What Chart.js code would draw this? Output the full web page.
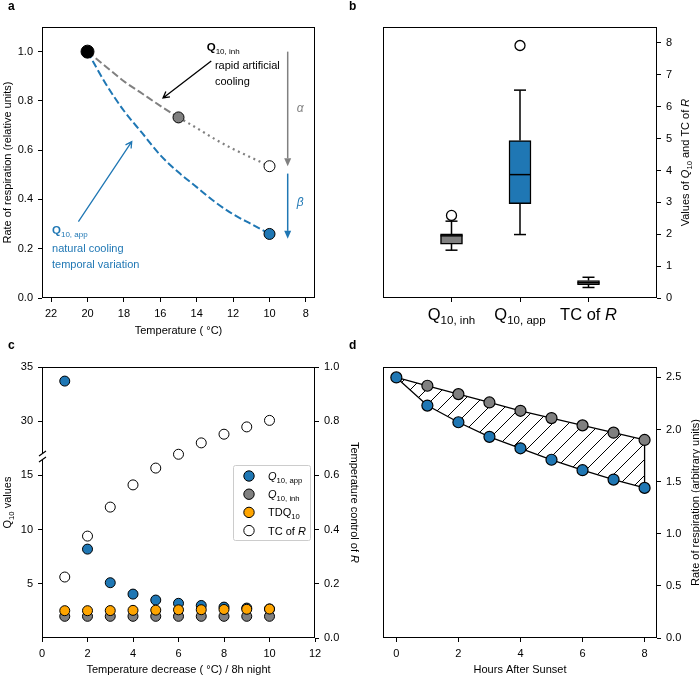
<!DOCTYPE html>
<html><head><meta charset="utf-8">
<script src="https://cdn.jsdelivr.net/npm/chart.js@4.4.1/dist/chart.umd.min.js"></script>
<style>
html,body{margin:0;padding:0;background:#fff;}
#wrap{position:relative;width:700px;height:676px;background:#fff;}
canvas{position:absolute;left:0;top:0;}
</style></head><body>
<div id="wrap">
<canvas id="ca" width="700" height="676"></canvas>
<canvas id="cb" width="700" height="676"></canvas>
<canvas id="cc" width="700" height="676"></canvas>
<canvas id="cd" width="700" height="676"></canvas>
</div>
<script>
const FONT = "'Liberation Sans', Arial, Helvetica, sans-serif";
const BLUE = '#1f77b4', GRAY = '#808080', ORANGE = '#ffa500';
Chart.defaults.font.family = FONT;

// ---------- Panel a data ----------
const aTempTicks = [22, 20, 18, 16, 14, 12, 10, 8];
const aRateTicks = [0.0, 0.2, 0.4, 0.6, 0.8, 1.0];
const aAppTemp = [20, 19, 18, 17, 16, 15, 14, 13, 12, 11, 10];
const aAppRate = [1.00, 0.87, 0.76, 0.67, 0.58, 0.51, 0.45, 0.39, 0.34, 0.30, 0.26];
const aInhTempDash = [20, 19, 18, 17, 16, 15];
const aInhRateDash = [1.00, 0.94, 0.88, 0.83, 0.78, 0.733];
const aInhTempDot = [15, 14, 13, 12, 11, 10];
const aInhRateDot = [0.733, 0.69, 0.645, 0.605, 0.57, 0.535];
const aMarkTemp = [20, 15, 10, 10];
const aMarkRate = [1.00, 0.733, 0.535, 0.26];
const aArrowTemp = 9;
const aAlphaSpan = [1.00, 0.535];
const aBetaSpan = [0.505, 0.24];

// ---------- Panel b data ----------
const bCategories = ['Q_{10, inh}', 'Q_{10, app}', 'TC of $R$'];
const bPositions = [1, 2, 3];
const bWhiskerLow = [1.50, 1.99, 0.33];
const bQ1 = [1.69, 2.96, 0.42];
const bMedian = [1.95, 3.87, 0.48];
const bQ3 = [2.01, 4.94, 0.55];
const bWhiskerHigh = [2.41, 6.52, 0.65];
const bOutliers = [2.59, 7.92, null];
const bTicksY = [0, 1, 2, 3, 4, 5, 6, 7, 8];

// ---------- Panel c data ----------
const cTempDecrease = [1, 2, 3, 4, 5, 6, 7, 8, 9, 10];
const cQ10app = [33.7, 8.2, 5.1, 4.05, 3.5, 3.2, 3.0, 2.85, 2.76, 2.68];
const cQ10inh = [2.0, 2.0, 2.0, 2.0, 2.0, 2.0, 2.0, 2.0, 2.0, 2.0];
const cTDQ10 = [2.52, 2.52, 2.53, 2.55, 2.57, 2.6, 2.61, 2.63, 2.65, 2.67];
const cTCofR = [0.225, 0.376, 0.483, 0.565, 0.627, 0.678, 0.72, 0.752, 0.779, 0.803];
const cTicksX = [0, 2, 4, 6, 8, 10, 12];
const cTicksLeft = [5, 10, 15, 30, 35];
const cTicksRight = [0.0, 0.2, 0.4, 0.6, 0.8, 1.0];
const cLegendLabels = ['$Q$_{10, app}', '$Q$_{10, inh}', 'TDQ_{10}', 'TC of $R$'];
const cBreakUpper = 27.5, cBreakGap = 10, cBreakMark = 16.75;

// ---------- Panel d data ----------
const dHours = [0, 1, 2, 3, 4, 5, 6, 7, 8];
const dInh = [2.50, 2.42, 2.34, 2.26, 2.18, 2.11, 2.04, 1.97, 1.90];
const dApp = [2.50, 2.23, 2.07, 1.93, 1.82, 1.71, 1.61, 1.52, 1.44];
const dTicksX = [0, 2, 4, 6, 8];
const dTicksY = [0.0, 0.5, 1.0, 1.5, 2.0, 2.5];

// ---------- helpers ----------
const pts = (xs, ys) => xs.map((x, i) => ({x, y: ys[i]}));
function fnt(p){ return (p.i ? 'italic ' : '') + (p.b ? 'bold ' : '') + p.s + 'px ' + FONT; }
function richParts(str, size, opt){
  opt = opt || {};
  const parts = []; let italic = false; let buf = ''; let i = 0;
  const push = () => { if (buf) parts.push({t: buf, s: size, i: italic, b: !!opt.bold, c: opt.color}); buf=''; };
  while (i < str.length){
    const ch = str[i];
    if (ch === '$'){ push(); italic = !italic; i++; continue; }
    if (ch === '_' && str[i+1] === '{'){
      push(); const j = str.indexOf('}', i);
      parts.push({t: str.slice(i+2, j), s: size*0.7, sub: true, c: opt.color}); i = j+1; continue;
    }
    buf += ch; i++;
  }
  push();
  return parts;
}
function drawRich(ctx, x, y, parts, o){
  o = o || {};
  ctx.save(); ctx.translate(x, y); if (o.rot) ctx.rotate(o.rot);
  let main = 0; parts.forEach(p => { if (!p.sub) main = Math.max(main, p.s); });
  if (!main) main = parts[0].s;
  let w = 0;
  parts.forEach(p => { ctx.font = fnt(p); p.w = ctx.measureText(p.t).width; w += p.w; });
  let cx = o.align === 'center' ? -w/2 : (o.align === 'right' ? -w : 0);
  const base = o.vcenter ? main*0.36 : 0;
  ctx.textBaseline = 'alphabetic'; ctx.textAlign = 'left';
  parts.forEach(p => {
    ctx.font = fnt(p); ctx.fillStyle = p.c || o.color || '#000';
    ctx.fillText(p.t, cx, base + (p.sub ? main*0.25 : 0)); cx += p.w;
  });
  ctx.restore();
}
function text(ctx, str, x, y, size, o){ o = o||{}; drawRich(ctx, x, y, richParts(str, size, o), o); }
function frame(chart){
  const {ctx, chartArea: a} = chart;
  ctx.save(); ctx.strokeStyle = '#000'; ctx.lineWidth = 1;
  ctx.strokeRect(Math.round(a.left) + 0.5, Math.round(a.top) + 0.5, Math.round(a.right - a.left) - 1, Math.round(a.bottom - a.top) - 1);
  ctx.restore();
}
function arrowFilled(ctx, x1, y1, x2, y2, color, lw){
  const ang = Math.atan2(y2-y1, x2-x1), hl = 8, hw = 3.5;
  const bx = x2 - hl*Math.cos(ang), by = y2 - hl*Math.sin(ang);
  ctx.save(); ctx.strokeStyle = color; ctx.fillStyle = color; ctx.lineWidth = lw;
  ctx.beginPath(); ctx.moveTo(x1, y1); ctx.lineTo(bx, by); ctx.stroke();
  ctx.beginPath(); ctx.moveTo(x2, y2);
  ctx.lineTo(bx - hw*Math.sin(ang), by + hw*Math.cos(ang));
  ctx.lineTo(bx + hw*Math.sin(ang), by - hw*Math.cos(ang));
  ctx.closePath(); ctx.fill(); ctx.restore();
}
function arrowOpen(ctx, x1, y1, x2, y2, color, lw){
  const ang = Math.atan2(y2-y1, x2-x1), hl = 7, sp = 0.5;
  ctx.save(); ctx.strokeStyle = color; ctx.lineWidth = lw; ctx.lineCap = 'butt';
  ctx.beginPath(); ctx.moveTo(x1, y1); ctx.lineTo(x2, y2);
  ctx.moveTo(x2 - hl*Math.cos(ang - sp), y2 - hl*Math.sin(ang - sp)); ctx.lineTo(x2, y2);
  ctx.lineTo(x2 - hl*Math.cos(ang + sp), y2 - hl*Math.sin(ang + sp));
  ctx.stroke(); ctx.restore();
}
function mkAxis(o){
  return {
    type: o.type || 'linear', position: o.position, min: o.min, max: o.max, reverse: !!o.reverse,
    bounds: 'data', offset: false,
    grid: {display: true, drawOnChartArea: false, drawTicks: true, tickLength: 4, color: '#000', lineWidth: 1, offset: false},
    border: {display: false},
    ticks: {color: '#000', font: {family: FONT, size: 11}, padding: (o.padding != null ? o.padding : 5), autoSkip: false,
            maxRotation: 0, minRotation: 0, callback: o.fmt || (v => String(v))},
    afterBuildTicks: s => { s.ticks = o.ticks.map(v => ({value: v})); },
    afterFit: s => { if (s.isHorizontal()) s.height = o.size; else s.width = o.size; }
  };
}
const baseOpts = (pad) => ({responsive: false, animation: false, events: [], layout: {padding: pad}});

// broken y-scale for panel c (upper segment shifted down by the gap)
class BrokenScale extends Chart.LinearScale {
  getPixelForValue(value){
    if (value === null || value === undefined) return NaN;
    return super.getPixelForValue(value >= cBreakUpper ? value - cBreakGap : value);
  }
}
BrokenScale.id = 'broken';
BrokenScale.defaults = Chart.LinearScale.defaults;
Chart.register(BrokenScale);

// ---------- Panel a ----------
const aPlugin = {
  id: 'aDeco',
  beforeDatasetsDraw(chart){ frame(chart); },
  afterDatasetsDraw(chart){
    const {ctx, scales: {x, y}} = chart;
    const X = v => x.getPixelForValue(v), Y = v => y.getPixelForValue(v);
    arrowFilled(ctx, X(aArrowTemp), Y(aAlphaSpan[0]), X(aArrowTemp), Y(aAlphaSpan[1]), GRAY, 1.5);
    arrowFilled(ctx, X(aArrowTemp), Y(aBetaSpan[0]), X(aArrowTemp), Y(aBetaSpan[1]), BLUE, 1.5);
    arrowOpen(ctx, X(13.2), Y(0.962), X(15.85), Y(0.812), '#000', 1.3);
    arrowOpen(ctx, X(20.5), Y(0.31), X(17.57), Y(0.635), BLUE, 1.3);
    drawRich(ctx, X(13.45), Y(1.0) - 1, [{t:'Q', s:11.5, b:true}, {t:'10, inh', s:8, sub:true}], {});
    text(ctx, 'rapid artificial', X(13.0), Y(0.939) + 2, 11);
    text(ctx, 'cooling', X(13.0), Y(0.874) + 2, 11);
    drawRich(ctx, X(8.32), Y(0.772), [{t:'α', s:12, i:true, c:GRAY}], {align:'center', vcenter:true});
    drawRich(ctx, X(8.32), Y(0.39), [{t:'β', s:12, i:true, c:BLUE}], {align:'center', vcenter:true});
    drawRich(ctx, X(21.95), Y(0.26), [{t:'Q', s:11.5, b:true, c:BLUE}, {t:'10, app', s:8, sub:true, c:BLUE}], {});
    text(ctx, 'natural cooling', X(21.95), Y(0.187), 11, {color: BLUE});
    text(ctx, 'temporal variation', X(21.95), Y(0.122), 11, {color: BLUE});
    // titles
    const a = chart.chartArea;
    text(ctx, 'Temperature ( °C)', (a.left + a.right)/2, a.bottom + 32, 11, {align:'center', vcenter:true});
    text(ctx, 'Rate of respiration (relative units)', 7, (a.top + a.bottom)/2, 11, {align:'center', vcenter:true, rot:-Math.PI/2});
    text(ctx, 'a', 8, 10, 12, {bold:true});
  }
};
new Chart(document.getElementById('ca'), {
  type: 'scatter',
  data: {datasets: [
    {data: pts(aMarkTemp, aMarkRate), showLine: false, pointRadius: [6.5, 5.5, 5.5, 5.5],
     pointBackgroundColor: ['#000', GRAY, '#fff', BLUE], pointBorderColor: '#000', pointBorderWidth: 1},
    {data: pts(aInhTempDash, aInhRateDash), showLine: true, borderColor: GRAY, borderWidth: 2, borderDash: [7.4, 3.2], pointRadius: 0, cubicInterpolationMode: 'monotone'},
    {data: pts(aInhTempDot, aInhRateDot), showLine: true, borderColor: GRAY, borderWidth: 2.2, borderDash: [2, 3.7], pointRadius: 0, cubicInterpolationMode: 'monotone'},
    {data: pts(aAppTemp, aAppRate), showLine: true, borderColor: BLUE, borderWidth: 2, borderDash: [7.4, 3.2], pointRadius: 0, cubicInterpolationMode: 'monotone'}
  ]},
  options: Object.assign(baseOpts({left: 0, top: 27, right: 385, bottom: 348}), {
    plugins: {legend: {display: false}, tooltip: {enabled: false}},
    scales: {
      x: mkAxis({position: 'bottom', min: 7.5, max: 22.5, reverse: true, ticks: aTempTicks, size: 30}),
      y: mkAxis({position: 'left', min: 0, max: 1.1, ticks: aRateTicks, size: 42, fmt: v => v.toFixed(1)})
    }
  }),
  plugins: [aPlugin]
});

// ---------- Panel b ----------
const bFill = [GRAY, BLUE, '#d0d0d0'];
const bWhiskerPts = [];
bPositions.forEach((p, i) => {
  bWhiskerPts.push({x: p, y: bWhiskerLow[i]}, {x: p, y: bQ1[i]}, {x: p, y: null},
                   {x: p, y: bQ3[i]}, {x: p, y: bWhiskerHigh[i]}, {x: p, y: null});
});
const bCapPts = [];
bPositions.forEach((p, i) => { bCapPts.push({x: p, y: bWhiskerLow[i]}, {x: p, y: bWhiskerHigh[i]}); });
const bPlugin = {
  id: 'bDeco',
  beforeDatasetsDraw(chart){ frame(chart); },
  afterDraw(chart){
    const {ctx, scales: {x}, chartArea: a} = chart;
    bCategories.forEach((c, i) => text(ctx, c, x.getPixelForValue(bPositions[i]), a.bottom + 22, 16.5, {align: 'center'}));
    text(ctx, 'Values of $Q$_{10} and TC of $R$', 685, (a.top + a.bottom)/2, 11, {align: 'center', vcenter: true, rot: -Math.PI/2});
    text(ctx, 'b', 349, 10, 12, {bold: true});
  }
};
new Chart(document.getElementById('cb'), {
  type: 'bar',
  data: {datasets: [
    {type: 'line', showLine: false, data: bPositions.map((p, i) => ({x: p, y: bOutliers[i]})).filter(d => d.y !== null),
     pointRadius: 5, pointBackgroundColor: '#fff', pointBorderColor: '#000', pointBorderWidth: 1.3},
    {type: 'line', showLine: false, data: pts(bPositions, bMedian), pointStyle: 'line', pointRadius: 11,
     pointBorderColor: '#000', pointBackgroundColor: '#000', pointBorderWidth: 1.5},
    {type: 'line', showLine: false, data: bCapPts, pointStyle: 'line', pointRadius: 6,
     pointBorderColor: '#000', pointBackgroundColor: '#000', pointBorderWidth: 1.5},
    {type: 'bar', data: bPositions.map((p, i) => ({x: p, y: [bQ1[i], bQ3[i]]})), backgroundColor: bFill,
     borderColor: '#000', borderWidth: 1.5, borderSkipped: false, grouped: false, barThickness: 22, maxBarThickness: 22,
     categoryPercentage: 1, barPercentage: 1},
    {type: 'line', showLine: true, spanGaps: false, data: bWhiskerPts, borderColor: '#000', borderWidth: 1.5, pointRadius: 0}
  ]},
  options: Object.assign(baseOpts({left: 383, top: 27, right: 13, bottom: 348}), {
    plugins: {legend: {display: false}, tooltip: {enabled: false}},
    scales: {
      x: mkAxis({position: 'bottom', min: 0, max: 4, ticks: bPositions, size: 30, fmt: () => ''}),
      y: mkAxis({position: 'right', min: 0, max: 8.5, ticks: bTicksY, size: 30})
    }
  }),
  plugins: [bPlugin]
});

// ---------- Panel c ----------
const cColors = [BLUE, GRAY, ORANGE, '#fff'];
const cPlugin = {
  id: 'cDeco',
  beforeDatasetsDraw(chart){ frame(chart); },
  afterDraw(chart){
    const {ctx, scales: {y}, chartArea: a} = chart;
    // axis break
    const by = y.getPixelForValue(cBreakMark), bx = Math.round(a.left) + 0.5;
    ctx.save();
    ctx.fillStyle = '#fff'; ctx.fillRect(bx - 2, by - 3, 4, 6);
    ctx.strokeStyle = '#000'; ctx.lineWidth = 1.2;
    ctx.beginPath();
    ctx.moveTo(bx - 3.5, by - 0.5); ctx.lineTo(bx + 3.5, by - 5.5);
    ctx.moveTo(bx - 3.5, by + 5.5); ctx.lineTo(bx + 3.5, by + 0.5);
    ctx.stroke(); ctx.restore();
    // legend
    const lx = a.right - 82, ly = 465, lw = 77, lh = 75;
    ctx.save();
    ctx.fillStyle = 'rgba(255,255,255,0.8)'; ctx.strokeStyle = '#cccccc'; ctx.lineWidth = 1;
    ctx.beginPath(); ctx.roundRect(lx + 0.5, ly + 0.5, lw, lh, 2); ctx.fill(); ctx.stroke();
    cLegendLabels.forEach((lab, i) => {
      const yy = ly + 11 + i*18.2;
      ctx.beginPath(); ctx.arc(lx + 16, yy, 5.2, 0, Math.PI*2);
      ctx.fillStyle = cColors[i]; ctx.fill(); ctx.strokeStyle = '#000'; ctx.lineWidth = 1; ctx.stroke();
      text(ctx, lab, lx + 35, yy, 11, {vcenter: true});
    });
    ctx.restore();
    // titles
    text(ctx, 'Temperature decrease ( °C) / 8h night', (a.left + a.right)/2, a.bottom + 31, 11, {align: 'center', vcenter: true});
    text(ctx, 'Q_{10} values', 7, (a.top + a.bottom)/2, 11, {align: 'center', vcenter: true, rot: -Math.PI/2});
    text(ctx, 'Temperature control of $R$', 355, (a.top + a.bottom)/2, 11, {align: 'center', vcenter: true, rot: Math.PI/2});
    text(ctx, 'c', 8, 349, 12, {bold: true});
  }
};
const cPoint = (color) => ({showLine: false, pointRadius: 5, pointBackgroundColor: color, pointBorderColor: '#000', pointBorderWidth: 1});
new Chart(document.getElementById('cc'), {
  type: 'scatter',
  data: {datasets: [
    Object.assign({data: pts(cTempDecrease, cTDQ10)}, cPoint(ORANGE)),
    Object.assign({data: pts(cTempDecrease, cQ10inh)}, cPoint(GRAY)),
    Object.assign({data: pts(cTempDecrease, cQ10app)}, cPoint(BLUE)),
    Object.assign({data: pts(cTempDecrease, cTCofR), yAxisID: 'y2'}, cPoint('#fff'))
  ]},
  options: Object.assign(baseOpts({left: 0, top: 367, right: 355, bottom: 18}), {
    plugins: {legend: {display: false}, tooltip: {enabled: false}},
    scales: {
      x: mkAxis({position: 'bottom', min: 0, max: 12, ticks: cTicksX, size: 20}),
      y: mkAxis({type: 'broken', position: 'left', min: 0, max: 25, ticks: cTicksLeft, size: 42}),
      y2: mkAxis({position: 'right', min: 0, max: 1, ticks: cTicksRight, size: 30, fmt: v => v.toFixed(1)})
    }
  }),
  plugins: [cPlugin]
});

// ---------- Panel d ----------
const dCanvas = document.getElementById('cd');
const tile = document.createElement('canvas'); tile.width = 16; tile.height = 16;
(function(){ const g = tile.getContext('2d'); g.strokeStyle = '#000'; g.lineWidth = 1;
  g.beginPath(); g.moveTo(-2, 18); g.lineTo(18, -2); g.moveTo(-2, 2); g.lineTo(2, -2); g.moveTo(14, 18); g.lineTo(18, 14); g.stroke(); })();
const hatch = dCanvas.getContext('2d').createPattern(tile, 'repeat');
const dPlugin = {
  id: 'dDeco',
  beforeDatasetsDraw(chart){ frame(chart); },
  afterDraw(chart){
    const {ctx, chartArea: a} = chart;
    text(ctx, 'Hours After Sunset', (a.left + a.right)/2, a.bottom + 31, 11, {align: 'center', vcenter: true});
    text(ctx, 'Rate of respiration (arbitrary units)', 695, (a.top + a.bottom)/2, 11, {align: 'center', vcenter: true, rot: -Math.PI/2});
    text(ctx, 'd', 349, 349, 12, {bold: true});
  }
};
new Chart(dCanvas, {
  type: 'scatter',
  data: {datasets: [
    {data: pts(dHours, dApp), showLine: true, borderColor: '#000', borderWidth: 1.3, fill: '+1', backgroundColor: hatch,
     pointRadius: 5.5, pointBackgroundColor: BLUE, pointBorderColor: '#000', pointBorderWidth: 1.2},
    {data: pts(dHours, dInh), showLine: true, borderColor: '#000', borderWidth: 1.3,
     pointRadius: dHours.map(h => h === 0 ? 0 : 5.5), pointBackgroundColor: GRAY, pointBorderColor: '#000', pointBorderWidth: 1.2},
    {data: [{x: dHours[8], y: dInh[8]}, {x: dHours[8], y: dApp[8]}], showLine: true, borderColor: '#000', borderWidth: 1.3, pointRadius: 0}
  ]},
  options: Object.assign(baseOpts({left: 383, top: 367, right: 13, bottom: 18}), {
    plugins: {legend: {display: false}, tooltip: {enabled: false}, filler: {drawTime: 'beforeDatasetsDraw'}},
    scales: {
      x: mkAxis({position: 'bottom', min: -0.43, max: 8.4, ticks: dTicksX, size: 20}),
      y: mkAxis({position: 'right', min: 0, max: 2.6, ticks: dTicksY, size: 30, fmt: v => v.toFixed(1)})
    }
  }),
  plugins: [dPlugin]
});
</script></body></html>
